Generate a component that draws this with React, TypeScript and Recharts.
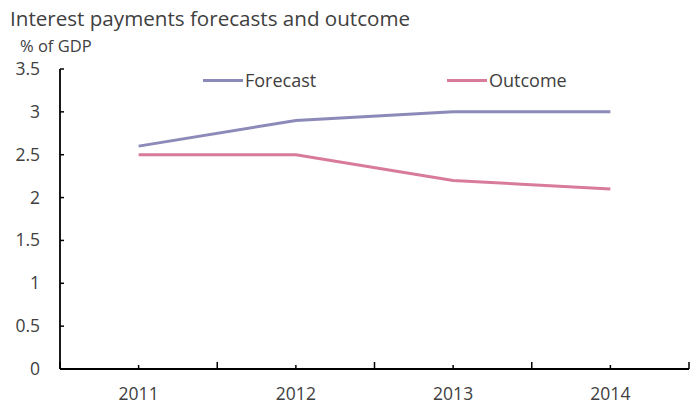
import React from "react";
import { Legend, Line, LineChart, XAxis, YAxis } from "recharts";

const YEARS = ["2011", "2012", "2013", "2014"];
const FORECAST = [2.6, 2.9, 3.0, 3.0];
const OUTCOME = [2.5, 2.5, 2.2, 2.1];
const Y_TICKS = [0, 0.5, 1, 1.5, 2, 2.5, 3, 3.5];

const FONT = "'Open Sans', sans-serif";
const TEXT = "#404040";
const FORECAST_COLOR = "#8C8AB8";
const OUTCOME_COLOR = "#D87A9C";

// categories sit in the middle of each band, boundaries on the integers
const data = YEARS.map((year, i) => ({
  x: i + 0.5,
  year,
  forecast: FORECAST[i],
  outcome: OUTCOME[i],
}));
const X_TICKS = YEARS.flatMap((_, i) => [i, i + 0.5]).concat(YEARS.length);

function XTick(props: any) {
  const { x, y, payload } = props;
  const v = payload.value as number;
  const isCat = v % 1 !== 0;
  return (
    <g>
      <line x1={x} x2={x} y1={y} y2={y - (isCat ? 4 : 7)} stroke="#000" strokeWidth={1.5} />
      {isCat && (
        <text x={x} y={y + 31} textAnchor="middle" fill={TEXT} fontSize={17.5} fontFamily={FONT}>
          {YEARS[Math.floor(v)]}
        </text>
      )}
    </g>
  );
}

function YTick(props: any) {
  const { x, y, payload } = props;
  return (
    <g>
      <line x1={x} x2={x + 4} y1={y} y2={y} stroke="#000" strokeWidth={1.5} />
      <text x={x - 20} y={y + 6} textAnchor="end" fill={TEXT} fontSize={17.5} fontFamily={FONT}>
        {payload.value}
      </text>
    </g>
  );
}

function LegendContent() {
  const items = [
    { label: "Forecast", color: FORECAST_COLOR },
    { label: "Outcome", color: OUTCOME_COLOR },
  ];
  return (
    <div style={{ display: "flex", fontFamily: FONT, fontSize: 18, color: TEXT, lineHeight: "24px" }}>
      {items.map((it) => (
        <div key={it.label} style={{ width: 244, display: "flex", alignItems: "center" }}>
          <span style={{ display: "inline-block", width: 40, height: 3, background: it.color }} />
          <span style={{ marginLeft: 2 }}>{it.label}</span>
        </div>
      ))}
    </div>
  );
}

export default function App() {
  return (
    <div style={{ position: "absolute", left: 0, top: 0, width: 697, height: 405, background: "#fff" }}>
      <div
        style={{
          position: "absolute",
          left: 10,
          top: 5,
          fontFamily: FONT,
          fontSize: 20.6,
          color: TEXT,
          whiteSpace: "nowrap",
          lineHeight: "26px",
        }}
      >
        Interest payments forecasts and outcome
      </div>
      <div
        style={{
          position: "absolute",
          left: 20,
          top: 36,
          fontFamily: FONT,
          fontSize: 16.5,
          color: TEXT,
          whiteSpace: "nowrap",
          lineHeight: "20px",
        }}
      >
        % of GDP
      </div>
      <LineChart
        width={697}
        height={405}
        data={data}
        margin={{ top: 69, right: 8, left: 0, bottom: 0 }}
      >
        <XAxis
          dataKey="x"
          type="number"
          domain={[0, YEARS.length]}
          ticks={X_TICKS}
          interval={0}
          height={36}
          tickSize={0}
          tickMargin={0}
          tickLine={false}
          axisLine={{ stroke: "#000", strokeWidth: 1.8 }}
          tick={<XTick />}
        />
        <YAxis
          domain={[0, 3.5]}
          ticks={Y_TICKS}
          interval={0}
          width={60}
          tickSize={0}
          tickMargin={0}
          tickLine={false}
          axisLine={{ stroke: "#000", strokeWidth: 1.8 }}
          tick={<YTick />}
        />
        <Legend
          layout="horizontal"
          verticalAlign="middle"
          align="center"
          content={<LegendContent />}
          wrapperStyle={{ top: 68, left: 203, width: 488 }}
        />
        <Line
          dataKey="forecast"
          name="Forecast"
          stroke={FORECAST_COLOR}
          strokeWidth={3}
          dot={false}
          isAnimationActive={false}
        />
        <Line
          dataKey="outcome"
          name="Outcome"
          stroke={OUTCOME_COLOR}
          strokeWidth={3}
          dot={false}
          isAnimationActive={false}
        />
      </LineChart>
    </div>
  );
}
